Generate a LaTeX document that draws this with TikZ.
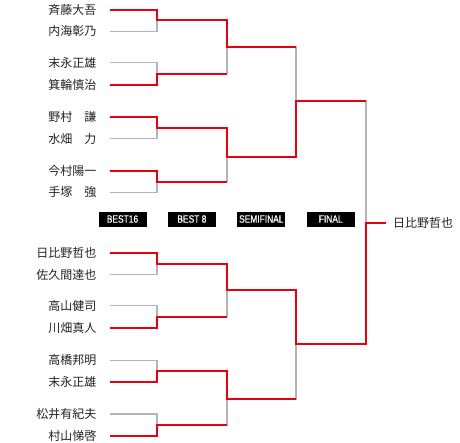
\documentclass[tikz,border=0pt]{standalone}
\usepackage{fontspec}
\setmainfont{Noto Sans CJK JP}
\newfontfamily\stagefont[FakeStretch=0.8, FakeBold=0.6]{Liberation Sans}
\usetikzlibrary{positioning}
\definecolor{winred}{HTML}{E60012}
\definecolor{linegray}{HTML}{B4B4B4}
\definecolor{nametext}{HTML}{222222}
\tikzstyle{player} = [anchor=east, inner xsep=13.5pt, inner ysep=0pt, text=nametext, font=\fontsize{12pt}{14pt}\selectfont]
\tikzstyle{stage} = [rectangle, fill=black, text=white, minimum width=48pt, minimum height=15pt, inner sep=0pt, font=\stagefont\fontsize{10.5pt}{11pt}\selectfont]

\begin{document}
\begin{tikzpicture}[x=1pt, y=-1pt,
    tree/.style={draw=linegray, line width=1.2pt},
    win/.style={draw=winred, line width=2pt}
  ]
    \useasboundingbox (0,0) rectangle (460,442);

    % ── BEST16 players (top half)
    \node[player] (p1) at (110,9.5) {斉藤大吾};
    \node[player] (p2) at (110,31.3) {内海彰乃};
    \node[player] (p3) at (110,62.7) {末永正雄};
    \node[player] (p4) at (110,84.7) {箕輪慎治};
    \node[player] (p5) at (110,117.3) {野村　謙};
    \node[player] (p6) at (110,138.7) {水畑　力};
    \node[player] (p7) at (110,170.7) {今村陽一};
    \node[player] (p8) at (110,192.3) {手塚　強};

    % ── BEST16 players (bottom half)
    \node[player] (p9) at (110,253.3) {日比野哲也};
    \node[player] (p10) at (110,274.7) {佐久間達也};
    \node[player] (p11) at (110,305.7) {高山健司};
    \node[player] (p12) at (110,327.7) {川畑真人};
    \node[player] (p13) at (110,360.3) {高橋邦明};
    \node[player] (p14) at (110,382.3) {末永正雄};
    \node[player] (p15) at (110,414) {松井有紀夫};
    \node[player] (p16) at (110,436) {村山悌啓};

    % ── Joins
    \coordinate (j1) at (157,20.4);
    \coordinate (j2) at (157,73.7);
    \coordinate (j3) at (157,128);
    \coordinate (j4) at (157,181.5);
    \coordinate (j5) at (157,264);
    \coordinate (j6) at (157,316.7);
    \coordinate (j7) at (157,371.3);
    \coordinate (j8) at (157,425);
    \coordinate (k1) at (227,47);
    \coordinate (k2) at (227,157);
    \coordinate (k3) at (227,290);
    \coordinate (k4) at (227,399);
    \coordinate (s1) at (296,101);
    \coordinate (s2) at (296,344);
    \coordinate (f) at (366,222.5);

    % ── Champion
    \node[player, anchor=west, inner xsep=7pt] (champ) at (386,222.5) {日比野哲也};

    % ── Stage labels
    \node[stage] (lbl16) at (122.5,219) {BEST16};
    \node[stage, right=21pt of lbl16] (lbl8) {BEST 8};
    \node[stage, right=21pt of lbl8] (lblsemi) {SEMIFINAL};
    \node[stage, right=21pt of lblsemi] (lblfinal) {FINAL};

    % ── Bracket (gray)
    \draw[tree] (p1.east) -| (j1) |- (p2.east);
    \draw[tree] (p3.east) -| (j2) |- (p4.east);
    \draw[tree] (p5.east) -| (j3) |- (p6.east);
    \draw[tree] (p7.east) -| (j4) |- (p8.east);
    \draw[tree] (p9.east) -| (j5) |- (p10.east);
    \draw[tree] (p11.east) -| (j6) |- (p12.east);
    \draw[tree] (p13.east) -| (j7) |- (p14.east);
    \draw[tree] (p15.east) -| (j8) |- (p16.east);
    \draw[tree] (j1) -| (k1) |- (j2);
    \draw[tree] (j3) -| (k2) |- (j4);
    \draw[tree] (j5) -| (k3) |- (j6);
    \draw[tree] (j7) -| (k4) |- (j8);
    \draw[tree] (k1) -| (s1) |- (k2);
    \draw[tree] (k3) -| (s2) |- (k4);
    \draw[tree] (s1) -| (f) |- (s2);

    % ── Winning paths (red)
    \draw[win] (p1.east) -| (j1) -| (k1) -- (k1 -| s1);
    \draw[win] (p4.east) -| (j2) -- (j2 -| k1);
    \draw[win] (p5.east) -| (j3) -| (k2) -| (s1) -- (s1 -| f);
    \draw[win] (p7.east) -| (j4) -- (j4 -| k2);
    \draw[win] (p9.east) -| (j5) -| (k3) -| (s2) -| (f) -- (champ.west);
    \draw[win] (p12.east) -| (j6) -- (j6 -| k3);
    \draw[win] (p14.east) -| (j7) -| (k4) -- (k4 -| s2);
    \draw[win] (p16.east) -| (j8) -- (j8 -| k4);
  \end{tikzpicture}
\end{document}
